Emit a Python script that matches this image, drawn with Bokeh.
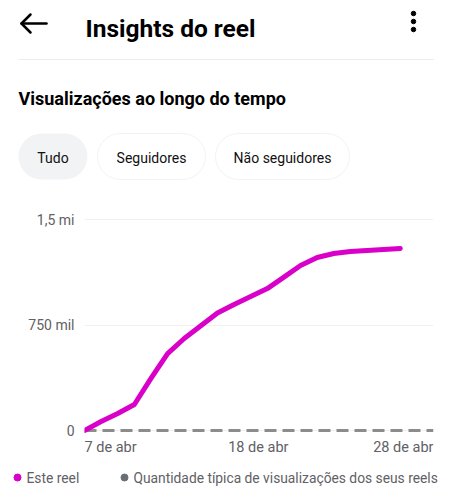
from datetime import datetime, timedelta
from bokeh.plotting import figure
from bokeh.models import Range1d, FixedTicker, Label, BoxAnnotation
from bokeh.layouts import column
from bokeh.embed import file_html
from bokeh.resources import INLINE

# ---------------- data ----------------
start_day = datetime(2025, 4, 7)
reel_days = [start_day + timedelta(days=i) for i in range(20)]          # 7 abr .. 26 abr
reel_views = [0, 64000, 121000, 185000, 370000, 547000, 654000, 745000, 835000,
              896000, 952000, 1009000, 1090000, 1173000, 1230000, 1258000,
              1272000, 1279000, 1286000, 1294000]
typical_days = [start_day + timedelta(days=i) for i in range(22)]       # 7 abr .. 28 abr
typical_views = [0] * 22

y_ticks = [0, 750000, 1500000]
y_tick_labels = {0: "0", 750000: "750 mil", 1500000: "1,5 mi"}
x_tick_days = [datetime(2025, 4, 7), datetime(2025, 4, 18), datetime(2025, 4, 28)]
x_tick_labels = ["7 de abr", "18 de abr", "28 de abr"]

header_title = "Insights do reel"
section_title = "Visualizações ao longo do tempo"
filters = ["Tudo", "Seguidores", "Não seguidores"]
legend_labels = ["Este reel", "Quantidade típica de visualizações dos seus reels"]

MAGENTA = "#d900c9"
DASH_GREY = "#8c8c8c"
TEXT_GREY = "#5f6165"
FONT = "Roboto"
W = 451

# ---------------- header ----------------
hdr = figure(width=W, height=200, x_range=Range1d(0, W), y_range=Range1d(200, 0),
             output_backend="svg", toolbar_location=None, min_border=0)
hdr.frame_align = False
hdr.axis.visible = False
hdr.grid.visible = False
hdr.outline_line_color = None

# back arrow
hdr.line([21, 46], [23, 23], line_width=2.5, color="black", line_cap="round")
hdr.line([30, 21, 30], [14, 23, 32], line_width=2.5, color="black",
         line_cap="round", line_join="round")
hdr.add_layout(Label(x=85, y=28, text=header_title, text_font=FONT, text_font_style="bold",
                     text_font_size="24.5px", text_color="black", text_baseline="alphabetic"))
# kebab menu
hdr.scatter([413, 413, 413], [13, 21, 29], size=4.5, color="black")
# separator
hdr.line([18, 433], [59, 59], line_width=1, color="#ececec")

hdr.add_layout(Label(x=18, y=98, text=section_title, text_font=FONT, text_font_style="bold",
                     text_font_size="18px", text_color="black", text_baseline="alphabetic"))

pill_bounds = [(18, 87), (97, 205), (215, 349)]
for i, (lft, rgt) in enumerate(pill_bounds):
    if i == 0:
        box = BoxAnnotation(left=lft, right=rgt, top=133, bottom=179, border_radius=23,
                            fill_color="#f2f3f5", fill_alpha=1, line_color=None)
    else:
        box = BoxAnnotation(left=lft, right=rgt, top=133, bottom=179, border_radius=23,
                            fill_color="white", fill_alpha=1, line_color="#d4d4d4",
                            line_width=1)
    hdr.add_layout(box)
    hdr.add_layout(Label(x=(lft + rgt) / 2, y=157, text=filters[i], text_font=FONT,
                         text_font_size="14px", text_color="#111111",
                         text_align="center", text_baseline="middle"))

# ---------------- chart ----------------
k = 1500000 / 211.0
p = figure(width=W, height=260, x_axis_type="datetime",
           x_range=Range1d(start_day, datetime(2025, 4, 28)),
           y_range=Range1d(-28 * k, 1500000 + 10 * k),
           output_backend="svg", toolbar_location=None,
           min_border_left=84, min_border_right=18, min_border_top=9, min_border_bottom=2)
p.frame_align = False
p.outline_line_color = None
p.xaxis.visible = False
p.xgrid.visible = False
p.ygrid.grid_line_color = "#f0f0f0"
p.yaxis.ticker = FixedTicker(ticks=y_ticks)
p.yaxis.major_label_overrides = y_tick_labels
p.yaxis.axis_line_color = None
p.yaxis.major_tick_line_color = None
p.yaxis.minor_tick_line_color = None
p.yaxis.major_label_standoff = 4
p.yaxis.major_label_text_font = FONT
p.yaxis.major_label_text_font_size = "14px"
p.yaxis.major_label_text_color = TEXT_GREY

p.line(typical_days, typical_views, line_width=3, color=DASH_GREY, line_dash="12 6")
p.line(reel_days, reel_views, line_width=5, color=MAGENTA, line_cap="round",
       line_join="round")

aligns = ["left", "center", "right"]
nudges = [0, -9, 0]
for d, lab, al, dx in zip(x_tick_days, x_tick_labels, aligns, nudges):
    p.add_layout(Label(x=d, y=0, x_offset=dx, y_offset=-17, text=lab, text_font=FONT,
                       text_font_size="14.5px", text_color=TEXT_GREY, text_align=al,
                       text_baseline="middle"))

# ---------------- legend ----------------
lg = figure(width=W, height=40, x_range=Range1d(0, W), y_range=Range1d(40, 0),
            output_backend="svg", toolbar_location=None, min_border=0)
lg.frame_align = False
lg.axis.visible = False
lg.grid.visible = False
lg.outline_line_color = None
lg.scatter([17], [17], size=7, color=MAGENTA)
lg.scatter([124], [17], size=7, color="#6b6e73")
lg.add_layout(Label(x=26, y=17, text=legend_labels[0], text_font=FONT, text_font_size="13.8px",
                    text_color=TEXT_GREY, text_baseline="middle"))
lg.add_layout(Label(x=133, y=17, text=legend_labels[1], text_font=FONT, text_font_size="13.8px",
                    text_color=TEXT_GREY, text_baseline="middle"))

layout = column(hdr, p, lg, spacing=0)
open("out.html", "w").write(file_html(layout, INLINE))
